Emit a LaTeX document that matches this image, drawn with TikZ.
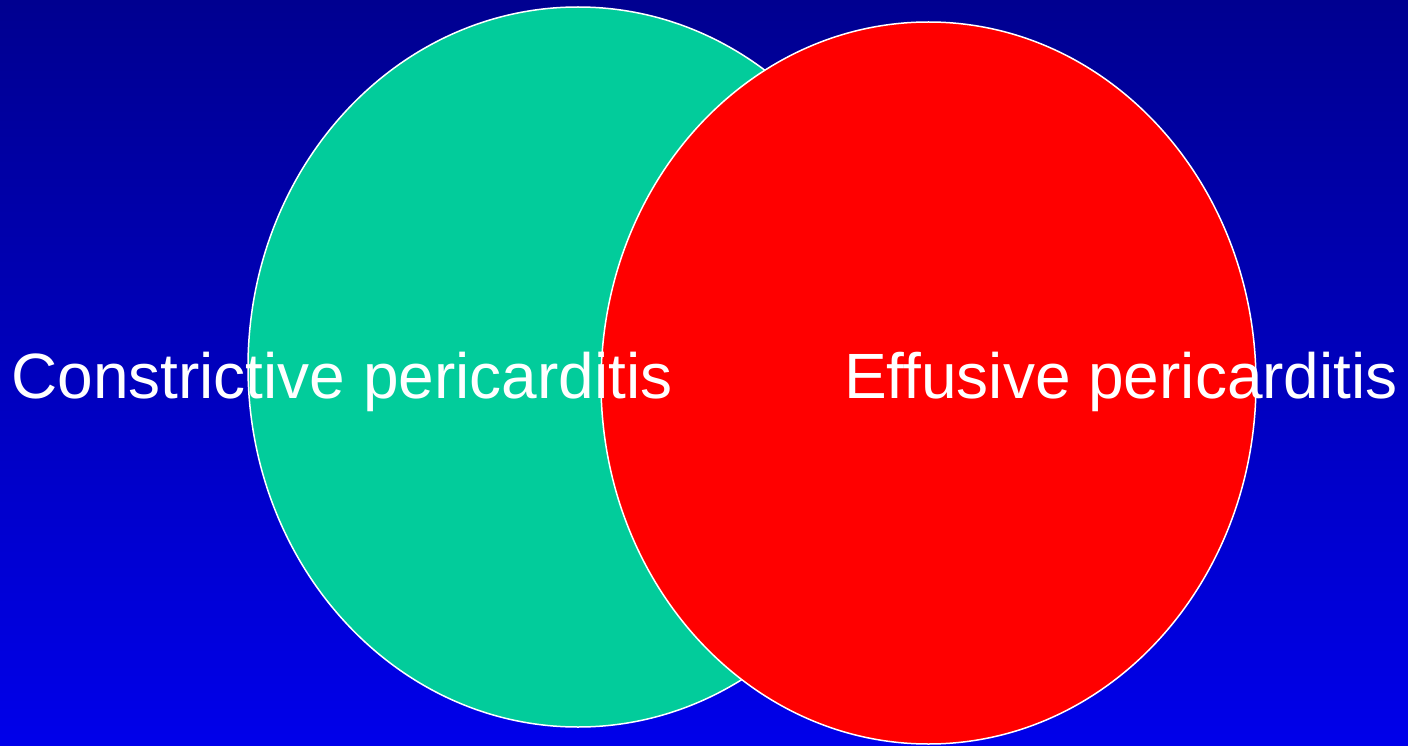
\documentclass[tikz,border=0pt]{standalone}
\usepackage{fontspec}
\setmainfont{Liberation Sans}
\definecolor{bgtop}{RGB}{0,0,144}
\definecolor{bgbot}{RGB}{0,0,234}
\definecolor{vgreen}{RGB}{2,204,155}
\definecolor{vred}{RGB}{255,0,0}
\begin{document}
\begin{tikzpicture}[x=1pt,y=-1pt,
  setarea/.style={draw=white, line width=1.5pt},
  label/.style={text=white, anchor=base, inner sep=0pt, font=\fontsize{64}{70}\selectfont}]
\shade[top color=bgtop, bottom color=bgbot] (0,0) rectangle (1408,746);
\useasboundingbox (0,0) rectangle (1408,746);
\path[setarea, fill=vgreen] (578,367) ellipse [x radius=330, y radius=360];
\path[setarea, fill=vred] (928.5,383) ellipse [x radius=327.5, y radius=361];
\node[label] (cp) at (342,398) {Constrictive pericarditis};
\node[label] (ep) at (1121,398) {Effusive pericarditis};
\end{tikzpicture}
\end{document}
